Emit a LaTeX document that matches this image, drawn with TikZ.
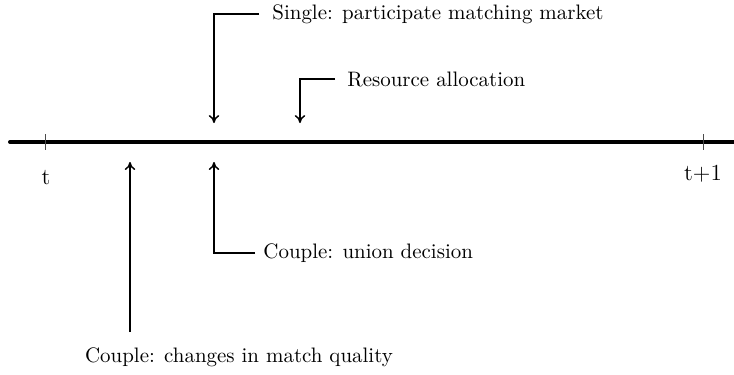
\documentclass[tikz,border=0pt]{standalone}
\usetikzlibrary{arrows.meta}
\begin{document}
\begin{tikzpicture}[x=0.4776pt,y=-0.4776pt,
  axis/.style={line width=1.9pt,line cap=round},
  tick/.style={line width=0.45pt,draw=black!70},
  evt/.style={line width=0.7pt,-{To[length=3.8pt,width=5pt]}},
  lbl/.style={anchor=west,inner sep=0pt,font=\fontsize{10pt}{12pt}\selectfont},
  ticklbl/.style={inner sep=0pt,font=\fontsize{11pt}{12pt}\selectfont}]
\useasboundingbox (0,0) rectangle (734,374);
% timeline
\coordinate (L) at (10,142);
\coordinate (R) at (736,142);
\draw[axis] (L) -- (R);
% ticks
\draw[tick] (45,134) -- (45,150);
\draw[tick] (703,134) -- (703,150);
\node[ticklbl] (lt0) at (46,178) {t};
\node[ticklbl] (lt1) at (703,174) {t+1};
% targets on the timeline
\coordinate (aSingle) at (214,123);
\coordinate (aRes) at (300,123);
\coordinate (aUnion) at (214,162);
\coordinate (aQual) at (130,162);
% labels
\node[lbl] (single) at (272,14) {Single: participate matching market};
\node[lbl] (res) at (347,79) {Resource allocation};
\node[lbl] (union) at (263,253) {Couple: union decision};
\node[inner sep=0pt,font=\fontsize{10pt}{12pt}\selectfont] (qual) at (239,357) {Couple: changes in match quality};
\coordinate (qualStart) at (130,332);
% connectors
\draw[evt] ([xshift=-13*0.4776pt]single.west) -| (aSingle);
\draw[evt] ([xshift=-12*0.4776pt]res.west) -| (aRes);
\draw[evt] ([xshift=-8*0.4776pt]union.west) -| (aUnion);
\draw[evt] (qualStart) -- (aQual);
\end{tikzpicture}
\end{document}
